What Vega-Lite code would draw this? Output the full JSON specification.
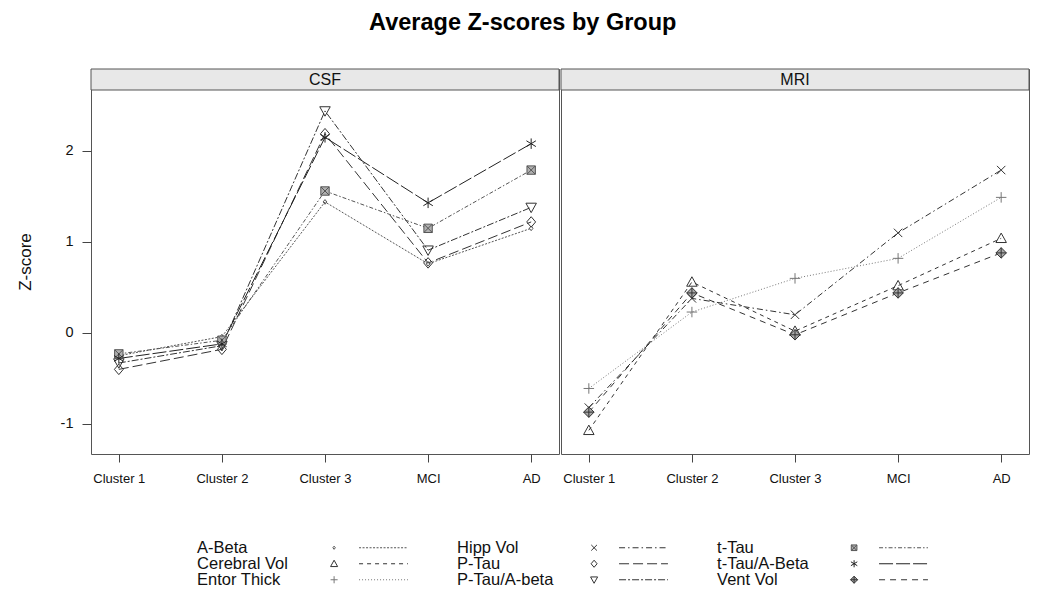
{
  "$schema": "https://vega.github.io/schema/vega-lite/v6.json",
  "background": "white",
  "padding": {"left": 15, "top": 10, "right": 10, "bottom": 5},
  "title": {"text": "Average Z-scores by Group", "font": "Liberation Sans", "fontSize": 23.5, "fontWeight": "bold", "anchor": "middle", "offset": 34, "color": "#000"},
  "config": {
    "font": "Liberation Sans",
    "view": {"stroke": null},
    "axis": {"grid": false, "domain": false, "tickColor": "#444", "labelColor": "#111", "titleColor": "#111", "labelFont": "Liberation Sans", "titleFont": "Liberation Sans", "labelFontWeight": "normal"},
    "headerFacet": {"labels": false, "title": null, "labelPadding": 0, "titlePadding": 0},
    "header": {"labels": false, "title": null, "labelPadding": 0, "titlePadding": 0}
  },
  "datasets": {
    "scores": [
      {"panel": "CSF", "series": "A-Beta", "group": "Cluster 1", "z": -0.25},
      {"panel": "CSF", "series": "A-Beta", "group": "Cluster 2", "z": -0.04},
      {"panel": "CSF", "series": "A-Beta", "group": "Cluster 3", "z": 1.44},
      {"panel": "CSF", "series": "A-Beta", "group": "MCI", "z": 0.76},
      {"panel": "CSF", "series": "A-Beta", "group": "AD", "z": 1.15},
      {"panel": "CSF", "series": "P-Tau", "group": "Cluster 1", "z": -0.40},
      {"panel": "CSF", "series": "P-Tau", "group": "Cluster 2", "z": -0.18},
      {"panel": "CSF", "series": "P-Tau", "group": "Cluster 3", "z": 2.19},
      {"panel": "CSF", "series": "P-Tau", "group": "MCI", "z": 0.77},
      {"panel": "CSF", "series": "P-Tau", "group": "AD", "z": 1.22},
      {"panel": "CSF", "series": "P-Tau/A-beta", "group": "Cluster 1", "z": -0.33},
      {"panel": "CSF", "series": "P-Tau/A-beta", "group": "Cluster 2", "z": -0.14},
      {"panel": "CSF", "series": "P-Tau/A-beta", "group": "Cluster 3", "z": 2.44},
      {"panel": "CSF", "series": "P-Tau/A-beta", "group": "MCI", "z": 0.91},
      {"panel": "CSF", "series": "P-Tau/A-beta", "group": "AD", "z": 1.38},
      {"panel": "CSF", "series": "t-Tau", "group": "Cluster 1", "z": -0.23},
      {"panel": "CSF", "series": "t-Tau", "group": "Cluster 2", "z": -0.08},
      {"panel": "CSF", "series": "t-Tau", "group": "Cluster 3", "z": 1.56},
      {"panel": "CSF", "series": "t-Tau", "group": "MCI", "z": 1.15},
      {"panel": "CSF", "series": "t-Tau", "group": "AD", "z": 1.79},
      {"panel": "CSF", "series": "t-Tau/A-Beta", "group": "Cluster 1", "z": -0.28},
      {"panel": "CSF", "series": "t-Tau/A-Beta", "group": "Cluster 2", "z": -0.12},
      {"panel": "CSF", "series": "t-Tau/A-Beta", "group": "Cluster 3", "z": 2.15},
      {"panel": "CSF", "series": "t-Tau/A-Beta", "group": "MCI", "z": 1.43},
      {"panel": "CSF", "series": "t-Tau/A-Beta", "group": "AD", "z": 2.08},
      {"panel": "MRI", "series": "Cerebral Vol", "group": "Cluster 1", "z": -1.07},
      {"panel": "MRI", "series": "Cerebral Vol", "group": "Cluster 2", "z": 0.56},
      {"panel": "MRI", "series": "Cerebral Vol", "group": "Cluster 3", "z": 0.02},
      {"panel": "MRI", "series": "Cerebral Vol", "group": "MCI", "z": 0.52},
      {"panel": "MRI", "series": "Cerebral Vol", "group": "AD", "z": 1.04},
      {"panel": "MRI", "series": "Entor Thick", "group": "Cluster 1", "z": -0.61},
      {"panel": "MRI", "series": "Entor Thick", "group": "Cluster 2", "z": 0.23},
      {"panel": "MRI", "series": "Entor Thick", "group": "Cluster 3", "z": 0.60},
      {"panel": "MRI", "series": "Entor Thick", "group": "MCI", "z": 0.82},
      {"panel": "MRI", "series": "Entor Thick", "group": "AD", "z": 1.49},
      {"panel": "MRI", "series": "Hipp Vol", "group": "Cluster 1", "z": -0.82},
      {"panel": "MRI", "series": "Hipp Vol", "group": "Cluster 2", "z": 0.38},
      {"panel": "MRI", "series": "Hipp Vol", "group": "Cluster 3", "z": 0.20},
      {"panel": "MRI", "series": "Hipp Vol", "group": "MCI", "z": 1.10},
      {"panel": "MRI", "series": "Hipp Vol", "group": "AD", "z": 1.79},
      {"panel": "MRI", "series": "Vent Vol", "group": "Cluster 1", "z": -0.87},
      {"panel": "MRI", "series": "Vent Vol", "group": "Cluster 2", "z": 0.44},
      {"panel": "MRI", "series": "Vent Vol", "group": "Cluster 3", "z": -0.02},
      {"panel": "MRI", "series": "Vent Vol", "group": "MCI", "z": 0.44},
      {"panel": "MRI", "series": "Vent Vol", "group": "AD", "z": 0.88}
    ],
    "panels": [{"panel": "CSF"}, {"panel": "MRI"}]
  },
  "spacing": 52,
  "vconcat": [
    {
      "spacing": 0,
      "hconcat": [
        {
          "width": 468, "height": 385,
          "view": {"stroke": "#555"},
          "layer": [
            {
              "data": {"name": "panels"},
              "transform": [{"filter": "datum.panel === 'CSF'"}],
              "mark": {"type": "rect", "fill": "#e8e8e8", "stroke": "#555", "strokeWidth": 1},
              "encoding": {
                "y": {"datum": 2.67, "type": "quantitative", "scale": {"domain": [-1.33, 2.9008], "nice": false, "zero": false}},
                "y2": {"datum": 2.9008}
              }
            },
            {
              "data": {"name": "panels"},
              "transform": [{"filter": "datum.panel === 'CSF'"}],
              "mark": {"type": "text", "fontSize": 16, "align": "center", "baseline": "middle", "color": "#111"},
              "encoding": {
                "y": {"datum": 2.785, "type": "quantitative"},
                "text": {"field": "panel", "type": "nominal"}
              }
            },
            {
              "data": {"name": "scores"},
              "transform": [{"filter": "datum.panel === 'CSF'"}],
              "mark": {"type": "line", "strokeWidth": 1},
              "encoding": {
                "x": {"field": "group", "type": "ordinal", "scale": {"type": "point", "domain": ["Cluster 1", "Cluster 2", "Cluster 3", "MCI", "AD"], "padding": 0.27},
                      "axis": {"title": null, "labelAngle": 0, "labelFontSize": 13, "tickSize": 8, "labelPadding": 10}},
                "y": {"field": "z", "type": "quantitative",
                      "axis": {"title": "Z-score", "values": [-1, 0, 1, 2], "format": ".0f", "labelExpr": "replace(datum.label, '\u2212', '-')", "labelFontSize": 14.5, "tickSize": 9, "labelPadding": 9, "titleFontSize": 17, "titleFontWeight": "normal", "titlePadding": 26, "minExtent": 31, "maxExtent": 31}},
                "strokeDash": {"field": "series", "type": "nominal", "legend": null,
                  "scale": {"domain": ["A-Beta", "Cerebral Vol", "Entor Thick", "Hipp Vol", "P-Tau", "P-Tau/A-beta", "t-Tau", "t-Tau/A-Beta", "Vent Vol"],
                            "range": [[2, 1.5], [4, 4], [1, 2], [6, 3, 1.5, 3], [10, 4], [7, 2, 2, 2], [4, 2, 1.5, 2], [14, 3], [6, 5]]}},
                "stroke": {"field": "series", "type": "nominal", "legend": null,
                  "scale": {"domain": ["A-Beta", "Cerebral Vol", "Entor Thick", "Hipp Vol", "P-Tau", "P-Tau/A-beta", "t-Tau", "t-Tau/A-Beta", "Vent Vol"],
                            "range": ["#555", "#333", "#777", "#333", "#333", "#333", "#555", "#222", "#333"]}}
              }
            },
            {
              "data": {"name": "scores"},
              "transform": [{"filter": "datum.panel === 'CSF'"}],
              "mark": {"type": "point", "strokeWidth": 1, "opacity": 1, "size": 110},
              "encoding": {
                "x": {"field": "group", "type": "ordinal"},
                "y": {"field": "z", "type": "quantitative"},
                "shape": {"field": "series", "type": "nominal", "legend": null,
                  "scale": {"domain": ["A-Beta", "Cerebral Vol", "Entor Thick", "Hipp Vol", "P-Tau", "P-Tau/A-beta", "t-Tau", "t-Tau/A-Beta", "Vent Vol"],
                            "range": ["M0,-0.45L0.35,0L0,0.45L-0.35,0Z", "M0,-1L1,0.8L-1,0.8Z", "M-1,0H1M0,-1V1", "M-0.8,-0.8L0.8,0.8M0.8,-0.8L-0.8,0.8", "M0,-1L0.85,0L0,1L-0.85,0Z", "M-1,-0.8L1,-0.8L0,1Z", "M-0.8,-0.8H0.8V0.8H-0.8ZM-0.8,-0.8L0.8,0.8M0.8,-0.8L-0.8,0.8", "M0,-1V1M-0.9,-0.55L0.9,0.55M0.9,-0.55L-0.9,0.55", "M0,-1L1,0L0,1L-1,0ZM0,-1V1M-1,0H1"]}},
                "stroke": {"field": "series", "type": "nominal", "legend": null},
                "fill": {"field": "series", "type": "nominal", "legend": null,
                  "scale": {"domain": ["A-Beta", "Cerebral Vol", "Entor Thick", "Hipp Vol", "P-Tau", "P-Tau/A-beta", "t-Tau", "t-Tau/A-Beta", "Vent Vol"],
                            "range": ["transparent", "transparent", "transparent", "transparent", "transparent", "transparent", "#b0b0b0", "transparent", "#a8a8a8"]}}
              }
            }
          ]
        },
        {
          "width": 468, "height": 385,
          "view": {"stroke": "#555"},
          "layer": [
            {
              "data": {"name": "panels"},
              "transform": [{"filter": "datum.panel === 'MRI'"}],
              "mark": {"type": "rect", "fill": "#e8e8e8", "stroke": "#555", "strokeWidth": 1},
              "encoding": {
                "y": {"datum": 2.67, "type": "quantitative", "scale": {"domain": [-1.33, 2.9008], "nice": false, "zero": false}, "axis": null},
                "y2": {"datum": 2.9008}
              }
            },
            {
              "data": {"name": "panels"},
              "transform": [{"filter": "datum.panel === 'MRI'"}],
              "mark": {"type": "text", "fontSize": 16, "align": "center", "baseline": "middle", "color": "#111"},
              "encoding": {
                "y": {"datum": 2.785, "type": "quantitative", "axis": null},
                "text": {"field": "panel", "type": "nominal"}
              }
            },
            {
              "data": {"name": "scores"},
              "transform": [{"filter": "datum.panel === 'MRI'"}],
              "mark": {"type": "line", "strokeWidth": 1},
              "encoding": {
                "x": {"field": "group", "type": "ordinal", "scale": {"type": "point", "domain": ["Cluster 1", "Cluster 2", "Cluster 3", "MCI", "AD"], "padding": 0.27},
                      "axis": {"title": null, "labelAngle": 0, "labelFontSize": 13, "tickSize": 8, "labelPadding": 10}},
                "y": {"field": "z", "type": "quantitative", "axis": null},
                "strokeDash": {"field": "series", "type": "nominal", "legend": null,
                  "scale": {"domain": ["A-Beta", "Cerebral Vol", "Entor Thick", "Hipp Vol", "P-Tau", "P-Tau/A-beta", "t-Tau", "t-Tau/A-Beta", "Vent Vol"],
                            "range": [[2, 1.5], [4, 4], [1, 2], [6, 3, 1.5, 3], [10, 4], [7, 2, 2, 2], [4, 2, 1.5, 2], [14, 3], [6, 5]]}},
                "stroke": {"field": "series", "type": "nominal", "legend": null,
                  "scale": {"domain": ["A-Beta", "Cerebral Vol", "Entor Thick", "Hipp Vol", "P-Tau", "P-Tau/A-beta", "t-Tau", "t-Tau/A-Beta", "Vent Vol"],
                            "range": ["#555", "#333", "#777", "#333", "#333", "#333", "#555", "#222", "#333"]}}
              }
            },
            {
              "data": {"name": "scores"},
              "transform": [{"filter": "datum.panel === 'MRI'"}],
              "mark": {"type": "point", "strokeWidth": 1, "opacity": 1, "size": 110},
              "encoding": {
                "x": {"field": "group", "type": "ordinal"},
                "y": {"field": "z", "type": "quantitative", "axis": null},
                "shape": {"field": "series", "type": "nominal", "legend": null,
                  "scale": {"domain": ["A-Beta", "Cerebral Vol", "Entor Thick", "Hipp Vol", "P-Tau", "P-Tau/A-beta", "t-Tau", "t-Tau/A-Beta", "Vent Vol"],
                            "range": ["M0,-0.45L0.35,0L0,0.45L-0.35,0Z", "M0,-1L1,0.8L-1,0.8Z", "M-1,0H1M0,-1V1", "M-0.8,-0.8L0.8,0.8M0.8,-0.8L-0.8,0.8", "M0,-1L0.85,0L0,1L-0.85,0Z", "M-1,-0.8L1,-0.8L0,1Z", "M-0.8,-0.8H0.8V0.8H-0.8ZM-0.8,-0.8L0.8,0.8M0.8,-0.8L-0.8,0.8", "M0,-1V1M-0.9,-0.55L0.9,0.55M0.9,-0.55L-0.9,0.55", "M0,-1L1,0L0,1L-1,0ZM0,-1V1M-1,0H1"]}},
                "stroke": {"field": "series", "type": "nominal", "legend": null},
                "fill": {"field": "series", "type": "nominal", "legend": null,
                  "scale": {"domain": ["A-Beta", "Cerebral Vol", "Entor Thick", "Hipp Vol", "P-Tau", "P-Tau/A-beta", "t-Tau", "t-Tau/A-Beta", "Vent Vol"],
                            "range": ["transparent", "transparent", "transparent", "transparent", "transparent", "transparent", "#b0b0b0", "transparent", "#a8a8a8"]}}
              }
            }
          ]
        }
      ]
    },
    {
      "data": {"name": "scores"},
      "transform": [{"aggregate": [], "groupby": ["series"]}],
      "facet": {"field": "series", "type": "nominal",
                "header": {"labels": false, "title": null, "labelFontSize": 1, "labelColor": "transparent", "labelPadding": 0, "labelExpr": "''", "titlePadding": 0},
                "sort": ["A-Beta", "Hipp Vol", "t-Tau", "Cerebral Vol", "P-Tau", "t-Tau/A-Beta", "Entor Thick", "P-Tau/A-beta", "Vent Vol"]},
      "columns": 3,
      "bounds": "flush",
      "spacing": {"row": 0, "column": 0},
      "spec": {
        "width": 260, "height": 15.5,
        "view": {"stroke": null},
        "encoding": {
          "y": {"datum": 0, "type": "quantitative", "scale": {"domain": [-1, 1]}, "axis": null}
        },
        "layer": [
          {
            "mark": {"type": "text", "align": "left", "baseline": "middle", "fontSize": 16.5, "color": "#111"},
            "encoding": {
              "x": {"datum": 0.408, "type": "quantitative", "scale": {"domain": [0, 1]}, "axis": null},
              "text": {"field": "series", "type": "nominal"}
            }
          },
          {
            "mark": {"type": "point", "strokeWidth": 1, "opacity": 1, "size": 50},
            "encoding": {
              "x": {"datum": 0.935, "type": "quantitative", "axis": null},
              "shape": {"field": "series", "type": "nominal", "legend": null,
                "scale": {"domain": ["A-Beta", "Cerebral Vol", "Entor Thick", "Hipp Vol", "P-Tau", "P-Tau/A-beta", "t-Tau", "t-Tau/A-Beta", "Vent Vol"],
                          "range": ["M0,-0.45L0.35,0L0,0.45L-0.35,0Z", "M0,-1L1,0.8L-1,0.8Z", "M-1,0H1M0,-1V1", "M-0.8,-0.8L0.8,0.8M0.8,-0.8L-0.8,0.8", "M0,-1L0.85,0L0,1L-0.85,0Z", "M-1,-0.8L1,-0.8L0,1Z", "M-0.8,-0.8H0.8V0.8H-0.8ZM-0.8,-0.8L0.8,0.8M0.8,-0.8L-0.8,0.8", "M0,-1V1M-0.9,-0.55L0.9,0.55M0.9,-0.55L-0.9,0.55", "M0,-1L1,0L0,1L-1,0ZM0,-1V1M-1,0H1"]}},
              "stroke": {"field": "series", "type": "nominal", "legend": null,
                "scale": {"domain": ["A-Beta", "Cerebral Vol", "Entor Thick", "Hipp Vol", "P-Tau", "P-Tau/A-beta", "t-Tau", "t-Tau/A-Beta", "Vent Vol"],
                          "range": ["#555", "#333", "#777", "#333", "#333", "#333", "#555", "#222", "#333"]}},
              "fill": {"field": "series", "type": "nominal", "legend": null,
                "scale": {"domain": ["A-Beta", "Cerebral Vol", "Entor Thick", "Hipp Vol", "P-Tau", "P-Tau/A-beta", "t-Tau", "t-Tau/A-Beta", "Vent Vol"],
                          "range": ["transparent", "transparent", "transparent", "transparent", "transparent", "transparent", "#b0b0b0", "transparent", "#a8a8a8"]}}
            }
          },
          {
            "mark": {"type": "rule", "strokeWidth": 1},
            "encoding": {
              "x": {"datum": 1.031, "type": "quantitative", "axis": null},
              "x2": {"datum": 1.219},
              "strokeDash": {"field": "series", "type": "nominal", "legend": null,
                "scale": {"domain": ["A-Beta", "Cerebral Vol", "Entor Thick", "Hipp Vol", "P-Tau", "P-Tau/A-beta", "t-Tau", "t-Tau/A-Beta", "Vent Vol"],
                          "range": [[2, 1.5], [4, 4], [1, 2], [6, 3, 1.5, 3], [10, 4], [7, 2, 2, 2], [4, 2, 1.5, 2], [14, 3], [6, 5]]}},
              "stroke": {"field": "series", "type": "nominal", "legend": null}
            }
          }
        ]
      }
    }
  ]
}
